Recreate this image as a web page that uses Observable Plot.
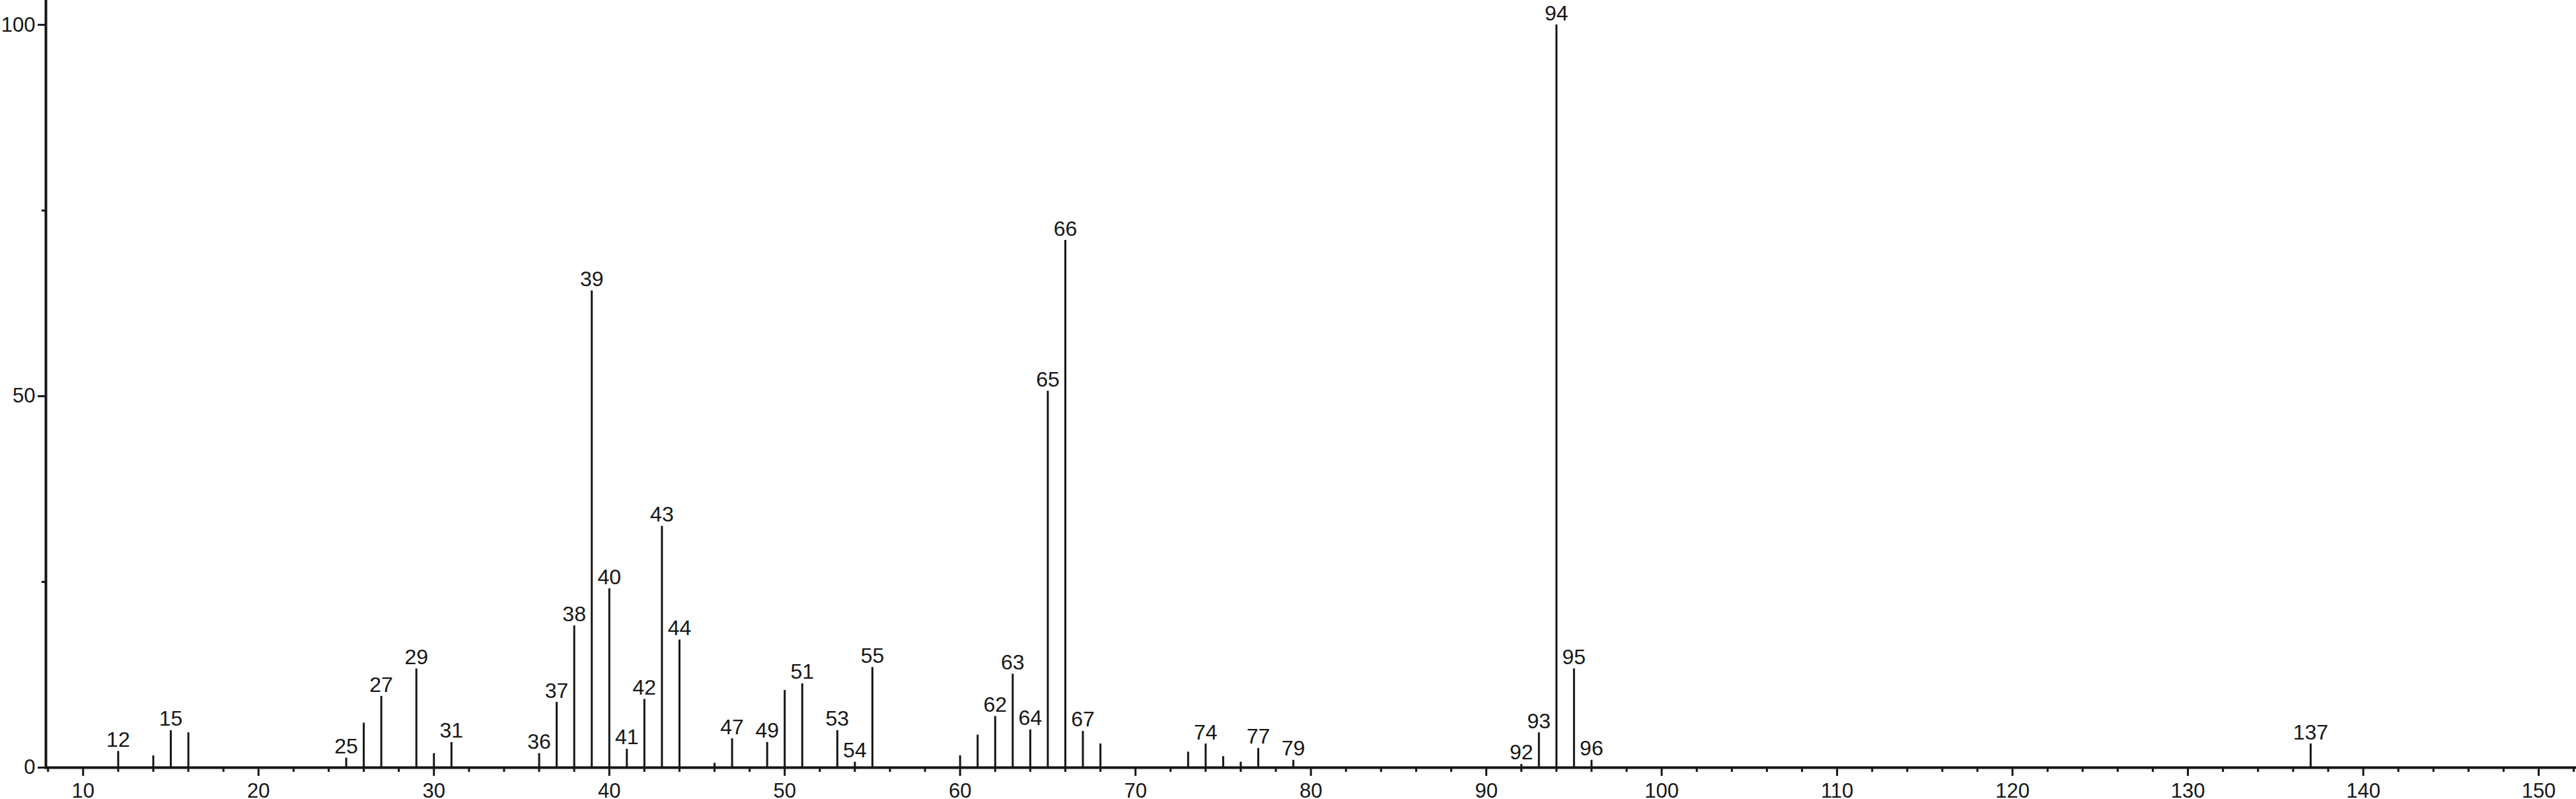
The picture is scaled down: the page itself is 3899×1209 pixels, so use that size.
<!DOCTYPE html>
<html>
<head>
<meta charset="utf-8">
<script src="https://cdn.jsdelivr.net/npm/d3@7"></script>
<script src="https://cdn.jsdelivr.net/npm/@observablehq/plot@0.6"></script>
<style>
  html, body { margin: 0; padding: 0; background: #fff; }
  #chart svg { display: block; }
</style>
</head>
<body>
<div id="chart"></div>
<script>
// m/z values of the peaks
const mz = [12, 14, 15, 16, 25, 26, 27, 29, 30, 31, 36, 37, 38, 39, 40, 41, 42, 43, 44, 46, 47, 49, 50, 51, 53, 54, 55, 60, 61, 62, 63, 64, 65, 66, 67, 68, 73, 74, 75, 76, 77, 79, 92, 93, 94, 95, 96, 137];
// relative intensities (%)
const intensity = [2.2, 1.6, 5.0, 4.7, 1.3, 6.0, 9.6, 13.3, 1.9, 3.4, 1.9, 8.8, 19.1, 64.2, 24.1, 2.5, 9.2, 32.5, 17.2, 0.6, 3.9, 3.4, 10.4, 11.3, 5.0, 0.75, 13.5, 1.6, 4.4, 6.9, 12.6, 5.1, 50.7, 71.0, 4.9, 3.2, 2.1, 3.2, 1.5, 0.75, 2.6, 1.0, 0.45, 4.7, 100, 13.3, 1.0, 3.2];
// peaks carrying a label
const labeledMz = [12, 15, 25, 27, 29, 31, 36, 37, 38, 39, 40, 41, 42, 43, 44, 47, 49, 51, 53, 54, 55, 62, 63, 64, 65, 66, 67, 74, 77, 79, 92, 93, 94, 95, 96, 137];
// axis ticks
const xMajorTicks = [10, 20, 30, 40, 50, 60, 70, 80, 90, 100, 110, 120, 130, 140, 150];
const xMinorTicks = [8, 12, 14, 16, 18, 22, 24, 26, 28, 32, 34, 36, 38, 42, 44, 46, 48, 52, 54, 56, 58, 62, 64, 66, 68, 72, 74, 76, 78, 82, 84, 86, 88, 92, 94, 96, 98, 102, 104, 106, 108, 112, 114, 116, 118, 122, 124, 126, 128, 132, 134, 136, 138, 142, 144, 146, 148, 152];
const yMajorTicks = [0, 50, 100];
const yMinorTicks = [25, 75];

const peaks = mz.map((m, i) => ({mz: m, value: intensity[i]}));
const labeled = peaks.filter(d => labeledMz.includes(d.mz));

const ink = "#161616";
const font = "'Liberation Sans', Arial, Helvetica, sans-serif";

const chart = Plot.plot({
  width: 3899,
  height: 1209,
  marginLeft: 69,
  marginRight: 0,
  marginTop: 0,
  marginBottom: 48,
  style: {fontFamily: font, background: "#fff", color: ink, overflow: "visible"},
  x: {domain: [7.879, 152.147], label: null},
  y: {domain: [0, 103.3], label: null},
  marks: [
    Plot.axisX({ticks: xMinorTicks, tickSize: 7, tickFormat: () => "", strokeWidth: 3, stroke: ink, label: null}),
    Plot.axisX({ticks: xMajorTicks, tickSize: 13, tickPadding: 10, strokeWidth: 3, stroke: ink,
                fontSize: 31, fill: ink, label: null}),
    Plot.axisY({ticks: yMinorTicks, tickSize: 6, tickFormat: () => "", strokeWidth: 3, stroke: ink, label: null}),
    Plot.axisY({ticks: yMajorTicks, tickSize: 12, tickPadding: 4, strokeWidth: 3, stroke: ink,
                fontSize: 31, fill: ink, label: null}),
    Plot.ruleX(peaks, {x: "mz", y1: 0, y2: "value", stroke: ink, strokeWidth: 3}),
    Plot.ruleY([0], {stroke: ink, strokeWidth: 4}),
    Plot.frame({anchor: "left", stroke: ink, strokeWidth: 4}),
    Plot.text(labeled, {x: "mz", y: "value", text: d => String(d.mz), dy: -7, lineAnchor: "bottom",
                        fontSize: 32, fill: ink})
  ]
});

document.getElementById("chart").appendChild(chart);
</script>
</body>
</html>
